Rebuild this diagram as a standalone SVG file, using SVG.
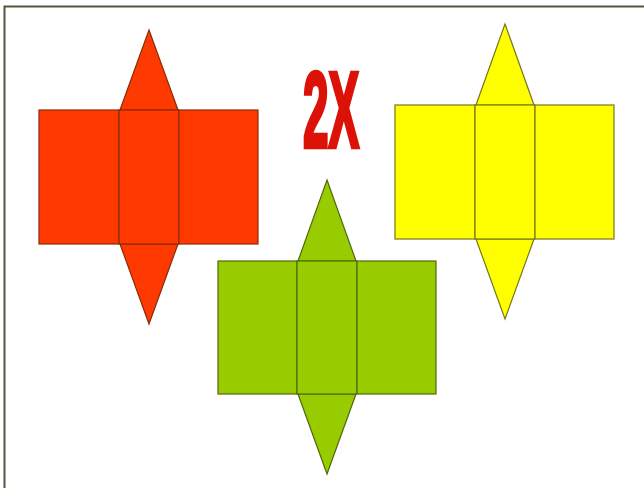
<svg xmlns="http://www.w3.org/2000/svg" width="644" height="488" viewBox="0 0 644 488">
<style>
.r,.y,.g{stroke-width:1.2;stroke-linejoin:miter}
.r{fill:#ff3a00;stroke:#8c2a08}.y{fill:#ffff00;stroke:#77771a}.g{fill:#99cc00;stroke:#4f6a0c}
.t{font-family:"Liberation Sans",Arial,sans-serif;font-weight:bold;font-size:100px;fill:#dc1208;stroke:#dc1208;stroke-width:4px}
</style>
<rect width="644" height="488" fill="#ffffff"/>
<path d="M4.500 488V6.500H644" fill="none" stroke="#55553a" stroke-width="2"/>
<g id="net-red">
<path class="r" d="M149 30L178 110H120Z"/>
<path class="r" d="M149 324L178 244H120Z"/>
<rect class="r" x="39" y="110" width="80" height="134"/>
<rect class="r" x="119" y="110" width="60" height="134"/>
<rect class="r" x="179" y="110" width="79" height="134"/>
</g>
<g id="net-yellow">
<path class="y" d="M505 24L534 105H476Z"/>
<path class="y" d="M505 319L534 239H476Z"/>
<rect class="y" x="395" y="105" width="80" height="134"/>
<rect class="y" x="475" y="105" width="60" height="134"/>
<rect class="y" x="535" y="105" width="79" height="134"/>
</g>
<g id="net-green">
<path class="g" d="M327 180L356 261H298Z"/>
<path class="g" d="M327 474L356 394H298Z"/>
<rect class="g" x="218" y="261" width="79" height="133"/>
<rect class="g" x="297" y="261" width="60" height="133"/>
<rect class="g" x="357" y="261" width="79" height="133"/>
</g>
<g id="label">
<text class="t" transform="translate(303 147) scale(.46 1.08)">2X</text>
</g>
</svg>
